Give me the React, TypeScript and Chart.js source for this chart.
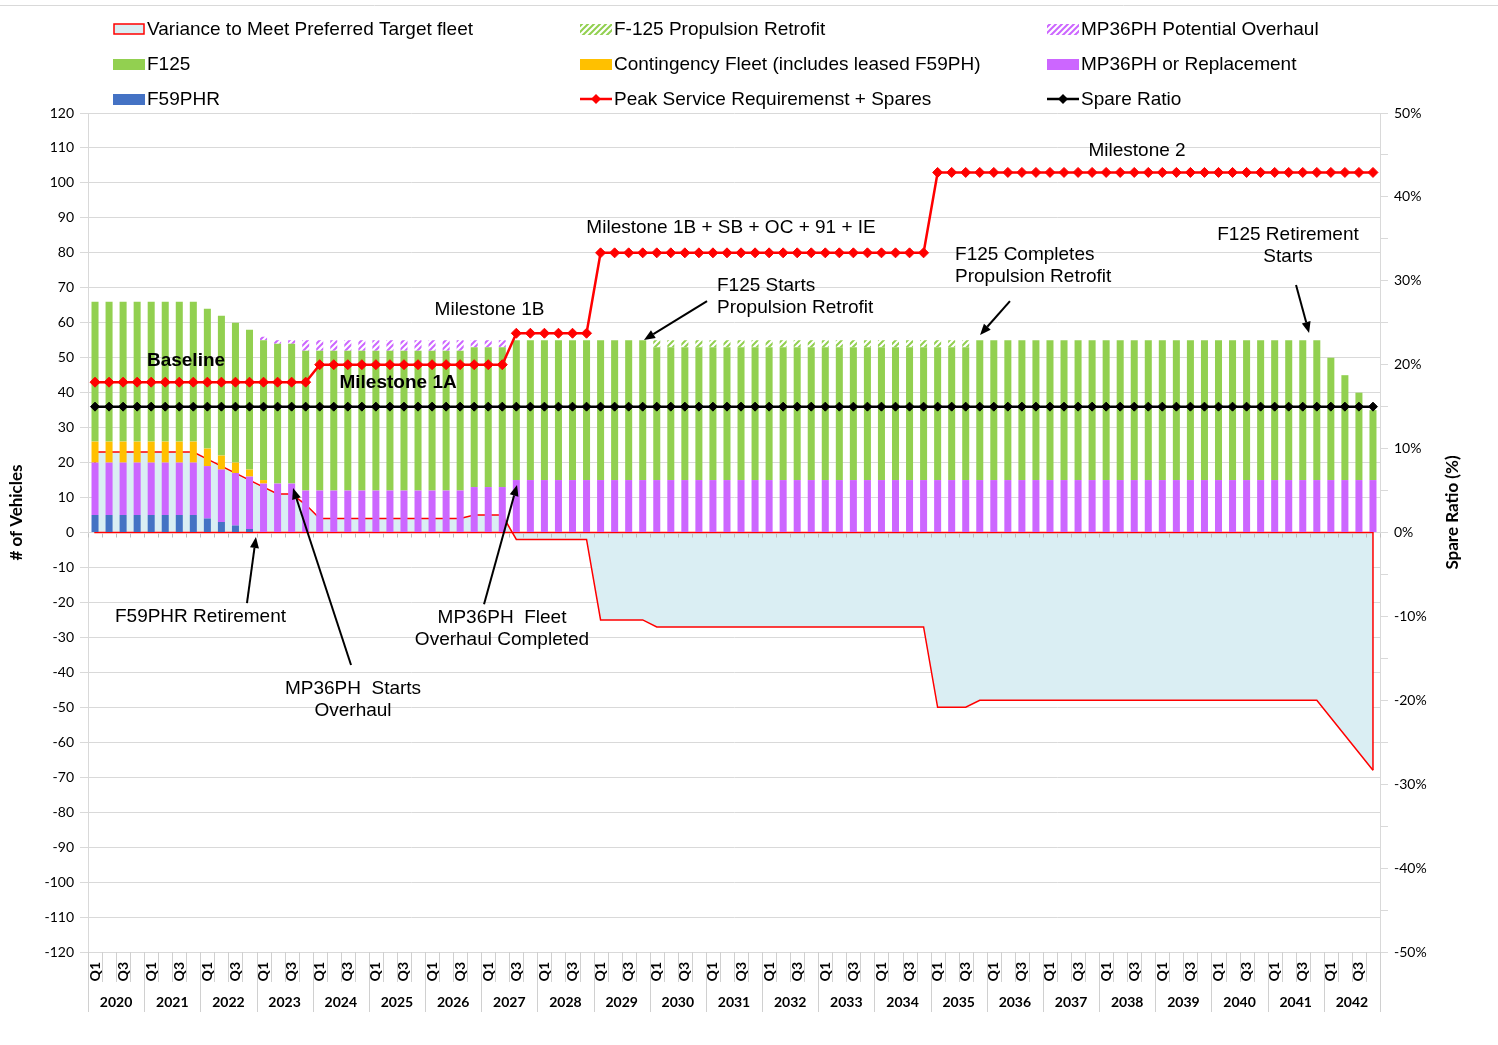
import React, { useEffect, useRef } from 'react';
import { Chart, registerables } from 'chart.js';

Chart.register(...registerables);

// ---------------- categories ----------------
const years = [
  '2020', '2021', '2022', '2023', '2024', '2025', '2026', '2027', '2028', '2029', '2030', '2031',
  '2032', '2033', '2034', '2035', '2036', '2037', '2038', '2039', '2040', '2041', '2042',
];
const quarterNames = ['Q1', 'Q2', 'Q3', 'Q4'];
const labeledQuarters = ['Q1', 'Q3'];

// ---------------- series (one row per year, Q1..Q4) ----------------
const f59phr = [
  5, 5, 5, 5, // 2020
  5, 5, 5, 5, // 2021
  4, 3, 2, 1, // 2022
  0, 0, 0, 0, // 2023
  0, 0, 0, 0, // 2024
  0, 0, 0, 0, // 2025
  0, 0, 0, 0, // 2026
  0, 0, 0, 0, // 2027
  0, 0, 0, 0, // 2028
  0, 0, 0, 0, // 2029
  0, 0, 0, 0, // 2030
  0, 0, 0, 0, // 2031
  0, 0, 0, 0, // 2032
  0, 0, 0, 0, // 2033
  0, 0, 0, 0, // 2034
  0, 0, 0, 0, // 2035
  0, 0, 0, 0, // 2036
  0, 0, 0, 0, // 2037
  0, 0, 0, 0, // 2038
  0, 0, 0, 0, // 2039
  0, 0, 0, 0, // 2040
  0, 0, 0, 0, // 2041
  0, 0, 0, 0, // 2042
];

const mp36ph = [
  15, 15, 15, 15, // 2020
  15, 15, 15, 15, // 2021
  15, 15, 15, 15, // 2022
  14, 14, 14, 12, // 2023
  12, 12, 12, 12, // 2024
  12, 12, 12, 12, // 2025
  12, 12, 12, 13, // 2026
  13, 13, 15, 15, // 2027
  15, 15, 15, 15, // 2028
  15, 15, 15, 15, // 2029
  15, 15, 15, 15, // 2030
  15, 15, 15, 15, // 2031
  15, 15, 15, 15, // 2032
  15, 15, 15, 15, // 2033
  15, 15, 15, 15, // 2034
  15, 15, 15, 15, // 2035
  15, 15, 15, 15, // 2036
  15, 15, 15, 15, // 2037
  15, 15, 15, 15, // 2038
  15, 15, 15, 15, // 2039
  15, 15, 15, 15, // 2040
  15, 15, 15, 15, // 2041
  15, 15, 15, 15, // 2042
];

const contingency = [
  6, 6, 6, 6, // 2020
  6, 6, 6, 6, // 2021
  5, 4, 3, 2, // 2022
  1, 0, 0, 0, // 2023
  0, 0, 0, 0, // 2024
  0, 0, 0, 0, // 2025
  0, 0, 0, 0, // 2026
  0, 0, 0, 0, // 2027
  0, 0, 0, 0, // 2028
  0, 0, 0, 0, // 2029
  0, 0, 0, 0, // 2030
  0, 0, 0, 0, // 2031
  0, 0, 0, 0, // 2032
  0, 0, 0, 0, // 2033
  0, 0, 0, 0, // 2034
  0, 0, 0, 0, // 2035
  0, 0, 0, 0, // 2036
  0, 0, 0, 0, // 2037
  0, 0, 0, 0, // 2038
  0, 0, 0, 0, // 2039
  0, 0, 0, 0, // 2040
  0, 0, 0, 0, // 2041
  0, 0, 0, 0, // 2042
];

const f125 = [
  40, 40, 40, 40, // 2020
  40, 40, 40, 40, // 2021
  40, 40, 40, 40, // 2022
  40, 40, 40, 40, // 2023
  40, 40, 40, 40, // 2024
  40, 40, 40, 40, // 2025
  40, 40, 40, 40, // 2026
  40, 40, 40, 40, // 2027
  40, 40, 40, 40, // 2028
  40, 40, 40, 40, // 2029
  38, 38, 38, 38, // 2030
  38, 38, 38, 38, // 2031
  38, 38, 38, 38, // 2032
  38, 38, 38, 38, // 2033
  38, 38, 38, 38, // 2034
  38, 38, 38, 40, // 2035
  40, 40, 40, 40, // 2036
  40, 40, 40, 40, // 2037
  40, 40, 40, 40, // 2038
  40, 40, 40, 40, // 2039
  40, 40, 40, 40, // 2040
  40, 40, 40, 40, // 2041
  35, 30, 25, 20, // 2042
];

const f125Retrofit = [
  0, 0, 0, 0, // 2020
  0, 0, 0, 0, // 2021
  0, 0, 0, 0, // 2022
  0, 0, 0, 0, // 2023
  0, 0, 0, 0, // 2024
  0, 0, 0, 0, // 2025
  0, 0, 0, 0, // 2026
  0, 0, 0, 0, // 2027
  0, 0, 0, 0, // 2028
  0, 0, 0, 0, // 2029
  2, 2, 2, 2, // 2030
  2, 2, 2, 2, // 2031
  2, 2, 2, 2, // 2032
  2, 2, 2, 2, // 2033
  2, 2, 2, 2, // 2034
  2, 2, 2, 0, // 2035
  0, 0, 0, 0, // 2036
  0, 0, 0, 0, // 2037
  0, 0, 0, 0, // 2038
  0, 0, 0, 0, // 2039
  0, 0, 0, 0, // 2040
  0, 0, 0, 0, // 2041
  0, 0, 0, 0, // 2042
];

const mp36Overhaul = [
  0, 0, 0, 0, // 2020
  0, 0, 0, 0, // 2021
  0, 0, 0, 0, // 2022
  1, 1, 1, 3, // 2023
  3, 3, 3, 3, // 2024
  3, 3, 3, 3, // 2025
  3, 3, 3, 2, // 2026
  2, 2, 0, 0, // 2027
  0, 0, 0, 0, // 2028
  0, 0, 0, 0, // 2029
  0, 0, 0, 0, // 2030
  0, 0, 0, 0, // 2031
  0, 0, 0, 0, // 2032
  0, 0, 0, 0, // 2033
  0, 0, 0, 0, // 2034
  0, 0, 0, 0, // 2035
  0, 0, 0, 0, // 2036
  0, 0, 0, 0, // 2037
  0, 0, 0, 0, // 2038
  0, 0, 0, 0, // 2039
  0, 0, 0, 0, // 2040
  0, 0, 0, 0, // 2041
  0, 0, 0, 0, // 2042
];

const peakRequirement = [
  43, 43, 43, 43, // 2020
  43, 43, 43, 43, // 2021
  43, 43, 43, 43, // 2022
  43, 43, 43, 43, // 2023
  48, 48, 48, 48, // 2024
  48, 48, 48, 48, // 2025
  48, 48, 48, 48, // 2026
  48, 48, 57, 57, // 2027
  57, 57, 57, 57, // 2028
  80, 80, 80, 80, // 2029
  80, 80, 80, 80, // 2030
  80, 80, 80, 80, // 2031
  80, 80, 80, 80, // 2032
  80, 80, 80, 80, // 2033
  80, 80, 80, 80, // 2034
  103, 103, 103, 103, // 2035
  103, 103, 103, 103, // 2036
  103, 103, 103, 103, // 2037
  103, 103, 103, 103, // 2038
  103, 103, 103, 103, // 2039
  103, 103, 103, 103, // 2040
  103, 103, 103, 103, // 2041
  103, 103, 103, 103, // 2042
];

const spareRatio = [
  0.15, 0.15, 0.15, 0.15, // 2020
  0.15, 0.15, 0.15, 0.15, // 2021
  0.15, 0.15, 0.15, 0.15, // 2022
  0.15, 0.15, 0.15, 0.15, // 2023
  0.15, 0.15, 0.15, 0.15, // 2024
  0.15, 0.15, 0.15, 0.15, // 2025
  0.15, 0.15, 0.15, 0.15, // 2026
  0.15, 0.15, 0.15, 0.15, // 2027
  0.15, 0.15, 0.15, 0.15, // 2028
  0.15, 0.15, 0.15, 0.15, // 2029
  0.15, 0.15, 0.15, 0.15, // 2030
  0.15, 0.15, 0.15, 0.15, // 2031
  0.15, 0.15, 0.15, 0.15, // 2032
  0.15, 0.15, 0.15, 0.15, // 2033
  0.15, 0.15, 0.15, 0.15, // 2034
  0.15, 0.15, 0.15, 0.15, // 2035
  0.15, 0.15, 0.15, 0.15, // 2036
  0.15, 0.15, 0.15, 0.15, // 2037
  0.15, 0.15, 0.15, 0.15, // 2038
  0.15, 0.15, 0.15, 0.15, // 2039
  0.15, 0.15, 0.15, 0.15, // 2040
  0.15, 0.15, 0.15, 0.15, // 2041
  0.15, 0.15, 0.15, 0.15, // 2042
];

const variance = [
  23, 23, 23, 23, // 2020
  23, 23, 23, 23, // 2021
  21, 19, 17, 15, // 2022
  13, 11, 11, 8, // 2023
  4, 4, 4, 4, // 2024
  4, 4, 4, 4, // 2025
  4, 4, 4, 5, // 2026
  5, 5, -2, -2, // 2027
  -2, -2, -2, -2, // 2028
  -25, -25, -25, -25, // 2029
  -27, -27, -27, -27, // 2030
  -27, -27, -27, -27, // 2031
  -27, -27, -27, -27, // 2032
  -27, -27, -27, -27, // 2033
  -27, -27, -27, -27, // 2034
  -50, -50, -50, -48, // 2035
  -48, -48, -48, -48, // 2036
  -48, -48, -48, -48, // 2037
  -48, -48, -48, -48, // 2038
  -48, -48, -48, -48, // 2039
  -48, -48, -48, -48, // 2040
  -48, -48, -48, -48, // 2041
  -53, -58, -63, -68, // 2042
];

// ---------------- text annotations (category index, value) ----------------
const notes = [
  { lines: ['Baseline'], at: [6.48, 49.1], align: 'center', bold: true },
  { lines: ['Milestone 1A'], at: [21.58, 42.8], align: 'center', bold: true },
  { lines: ['Milestone 1B'], at: [28.09, 63.6], align: 'center', bold: false },
  { lines: ['Milestone 1B + SB + OC + 91 + IE'], at: [45.29, 87.1], align: 'center', bold: false },
  { lines: ['Milestone 2'], at: [74.2, 109.1], align: 'center', bold: false },
  { lines: ['F125 Starts', 'Propulsion Retrofit'], at: [44.29, 70.5], align: 'left', bold: false },
  { lines: ['F125 Completes', 'Propulsion Retrofit'], at: [61.24, 79.4], align: 'left', bold: false },
  { lines: ['F125 Retirement', 'Starts'], at: [84.95, 85.1], align: 'center', bold: false },
  { lines: ['F59PHR Retirement'], at: [7.51, -24.2], align: 'center', bold: false },
  { lines: ['MP36PH  Fleet', 'Overhaul Completed'], at: [28.98, -24.5], align: 'center', bold: false },
  { lines: ['MP36PH  Starts', 'Overhaul'], at: [18.37, -44.8], align: 'center', bold: false },
];

const arrows = [
  { from: [10.82, -20.2], to: [11.46, -1.3] },
  { from: [18.23, -37.9], to: [14.1, 12.7] },
  { from: [27.7, -20.5], to: [30.05, 13.6] },
  { from: [43.58, 66.2], to: [39.09, 55.1] },
  { from: [65.15, 66.2], to: [63.02, 56.5] },
  { from: [85.52, 70.8], to: [86.45, 57.1] },
];

const legendColumns = [
  ['Variance to Meet Preferred Target fleet', 'F125', 'F59PHR'],
  ['F-125 Propulsion Retrofit', 'Contingency Fleet (includes leased F59PH)', 'Peak Service Requiremenst + Spares'],
  ['MP36PH Potential Overhaul', 'MP36PH or Replacement', 'Spare Ratio'],
];

const LABEL_VARIANCE = 'Variance to Meet Preferred Target fleet';

const TEXT_FONT = '"Liberation Sans", Arial, sans-serif';
const AXIS_FONT = 'Lato, Carlito, "Open Sans", sans-serif';

const GREEN = '#92D050';
const PURPLE = '#CC66FF';
const ORANGE = '#FFC000';
const BLUE = '#4472C4';
const AREA_FILL = '#DAEEF3';
const RED = '#FF0000';
const GRID = '#D9D9D9';

function makeHatch(color: string) {
  const s = 6;
  const c = document.createElement('canvas');
  c.width = s;
  c.height = s;
  const g = c.getContext('2d') as CanvasRenderingContext2D;
  g.fillStyle = '#ffffff';
  g.fillRect(0, 0, s, s);
  g.strokeStyle = color;
  g.lineWidth = 2;
  g.beginPath();
  g.moveTo(-1, s + 1);
  g.lineTo(s + 1, -1);
  g.moveTo(-s / 2 - 1, s / 2 + 1);
  g.lineTo(s / 2 + 1, -s / 2 - 1);
  g.moveTo(s / 2 - 1, s * 1.5 + 1);
  g.lineTo(s * 1.5 + 1, s / 2 - 1);
  g.stroke();
  return g.createPattern(c, 'repeat') as CanvasPattern;
}

function diamond(ctx: CanvasRenderingContext2D, x: number, y: number, r: number, color: string) {
  ctx.beginPath();
  ctx.moveTo(x, y - r);
  ctx.lineTo(x + r, y);
  ctx.lineTo(x, y + r);
  ctx.lineTo(x - r, y);
  ctx.closePath();
  ctx.fillStyle = color;
  ctx.fill();
}

function arrow(ctx: CanvasRenderingContext2D, x1: number, y1: number, x2: number, y2: number) {
  const a = Math.atan2(y2 - y1, x2 - x1);
  const len = 11;
  const half = 4.5;
  const bx = x2 - len * Math.cos(a);
  const by = y2 - len * Math.sin(a);
  ctx.strokeStyle = '#000';
  ctx.lineWidth = 2;
  ctx.beginPath();
  ctx.moveTo(x1, y1);
  ctx.lineTo(bx, by);
  ctx.stroke();
  ctx.fillStyle = '#000';
  ctx.beginPath();
  ctx.moveTo(x2, y2);
  ctx.lineTo(bx + half * Math.sin(a), by - half * Math.cos(a));
  ctx.lineTo(bx - half * Math.sin(a), by + half * Math.cos(a));
  ctx.closePath();
  ctx.fill();
}

const decorPlugin = {
  id: 'decor',
  afterDatasetDraw(chart: any, args: any) {
    const ds = chart.data.datasets[args.index];
    if (ds.label !== LABEL_VARIANCE) return;
    const pts = args.meta.data;
    if (!pts.length) return;
    const ctx = chart.ctx;
    const y0 = chart.scales.y.getPixelForValue(0);
    const first = pts[0];
    const last = pts[pts.length - 1];
    ctx.save();
    ctx.strokeStyle = RED;
    ctx.lineWidth = 1.5;
    ctx.beginPath();
    ctx.moveTo(first.x, first.y);
    ctx.lineTo(first.x, y0);
    ctx.lineTo(last.x, y0);
    ctx.lineTo(last.x, last.y);
    ctx.stroke();
    ctx.restore();
  },
  afterDatasetsDraw(chart: any) {
    const { ctx, chartArea: ca } = chart;
    const n = chart.data.labels.length;
    const cw = (ca.right - ca.left) / n;
    const y0 = chart.scales.y.getPixelForValue(0);
    ctx.save();
    ctx.strokeStyle = '#BFBFBF';
    ctx.lineWidth = 1;
    ctx.beginPath();
    for (let k = 0; k <= n; k++) {
      const px = Math.round(ca.left + k * cw) + 0.5;
      ctx.moveTo(px, y0 + 1);
      ctx.lineTo(px, y0 + 5);
    }
    ctx.stroke();
    ctx.restore();
  },
  afterDraw(chart: any) {
    const { ctx, chartArea: ca, scales } = chart;
    const xs = scales.x;
    const ys = scales.y;
    const n = chart.data.labels.length;
    const cw = (ca.right - ca.left) / n;
    const qn = quarterNames.length;
    ctx.save();

    // outer top border
    ctx.strokeStyle = GRID;
    ctx.lineWidth = 1;
    ctx.beginPath();
    ctx.moveTo(0, 5.5);
    ctx.lineTo(chart.width, 5.5);
    ctx.stroke();

    // category label area separators
    ctx.strokeStyle = '#D0D0D0';
    ctx.beginPath();
    for (let k = 0; k <= n; k++) {
      const px = Math.round(ca.left + k * cw) + 0.5;
      ctx.moveTo(px, ca.bottom);
      ctx.lineTo(px, k % qn === 0 ? ca.bottom + 60 : ca.bottom + 30);
    }
    ctx.stroke();

    // quarter labels
    ctx.fillStyle = '#000';
    ctx.font = `bold 14px ${AXIS_FONT}`;
    ctx.textAlign = 'right';
    ctx.textBaseline = 'middle';
    for (let i = 0; i < n; i++) {
      const q = quarterNames[i % qn];
      if (!labeledQuarters.includes(q)) continue;
      const px = xs.getPixelForValue(i);
      ctx.save();
      ctx.translate(px, ca.bottom + 10);
      ctx.rotate(-Math.PI / 2);
      ctx.fillText(q, 0, 0);
      ctx.restore();
    }
    // year labels
    ctx.textAlign = 'center';
    years.forEach((yr, k) => {
      const cx = (xs.getPixelForValue(k * qn) + xs.getPixelForValue(k * qn + qn - 1)) / 2;
      ctx.fillText(yr, cx, ca.bottom + 50);
    });

    // axis titles
    ctx.font = `bold 17px ${AXIS_FONT}`;
    ctx.textAlign = 'center';
    ctx.textBaseline = 'middle';
    const midY = (ca.top + ca.bottom) / 2 - 20;
    ctx.save();
    ctx.translate(17, midY);
    ctx.rotate(-Math.PI / 2);
    ctx.fillText('# of Vehicles', 0, 0);
    ctx.restore();
    ctx.save();
    ctx.translate(ca.right + 73, midY);
    ctx.rotate(-Math.PI / 2);
    ctx.fillText('Spare Ratio (%)', 0, 0);
    ctx.restore();

    // legend
    const colX = [113, 580, 1047];
    const rowY = [29, 64, 99];
    ctx.font = `19px ${TEXT_FONT}`;
    ctx.textAlign = 'left';
    ctx.textBaseline = 'middle';
    legendColumns.forEach((col, ci) => {
      col.forEach((label, ri) => {
        const ds = chart.data.datasets.find((d: any) => d.label === label);
        if (!ds) return;
        const x0 = colX[ci];
        const y0 = rowY[ri];
        if (label === LABEL_VARIANCE) {
          ctx.fillStyle = AREA_FILL;
          ctx.fillRect(x0 + 1, y0 - 5, 30, 10);
          ctx.strokeStyle = RED;
          ctx.lineWidth = 1.5;
          ctx.strokeRect(x0 + 1, y0 - 5, 30, 10);
        } else if (ds.type === 'line') {
          ctx.strokeStyle = ds.borderColor;
          ctx.lineWidth = 2.5;
          ctx.beginPath();
          ctx.moveTo(x0, y0);
          ctx.lineTo(x0 + 32, y0);
          ctx.stroke();
          diamond(ctx, x0 + 16, y0, 5, ds.borderColor);
        } else {
          ctx.fillStyle = ds.backgroundColor;
          ctx.fillRect(x0, y0 - 5, 32, 11);
        }
        ctx.fillStyle = '#000';
        ctx.fillText(label, x0 + 34, y0 + 1);
      });
    });

    // annotations
    notes.forEach((nt) => {
      const px = xs.getPixelForValue(nt.at[0]);
      const py = ys.getPixelForValue(nt.at[1]);
      ctx.font = `${nt.bold ? 'bold ' : ''}19px ${TEXT_FONT}`;
      ctx.textAlign = nt.align;
      ctx.textBaseline = 'middle';
      ctx.fillStyle = '#000';
      nt.lines.forEach((ln, li) => ctx.fillText(ln, px, py + li * 22));
    });
    arrows.forEach((ar) => {
      arrow(
        ctx,
        xs.getPixelForValue(ar.from[0]),
        ys.getPixelForValue(ar.from[1]),
        xs.getPixelForValue(ar.to[0]),
        ys.getPixelForValue(ar.to[1]),
      );
    });

    ctx.restore();
  },
};

export default function App() {
  const ref = useRef<HTMLCanvasElement | null>(null);

  useEffect(() => {
    const canvas = ref.current;
    if (!canvas) return;
    const hatchGreen = makeHatch(GREEN);
    const hatchPurple = makeHatch(PURPLE);
    const labels = years.flatMap((y) => quarterNames.map((q) => `${y} ${q}`));

    const barBase = { type: 'bar', stack: 'fleet', order: 5, borderWidth: 0, yAxisID: 'y' };

    const chart = new Chart(canvas, {
      type: 'bar',
      data: {
        labels,
        datasets: [
          {
            type: 'line',
            label: LABEL_VARIANCE,
            data: variance,
            yAxisID: 'y',
            stack: 'variance',
            order: 10,
            fill: 'origin',
            backgroundColor: AREA_FILL,
            borderColor: RED,
            borderWidth: 1.5,
            pointRadius: 0,
            pointHoverRadius: 0,
            tension: 0,
          },
          { ...barBase, label: 'F59PHR', data: f59phr, backgroundColor: BLUE },
          { ...barBase, label: 'MP36PH or Replacement', data: mp36ph, backgroundColor: PURPLE },
          { ...barBase, label: 'Contingency Fleet (includes leased F59PH)', data: contingency, backgroundColor: ORANGE },
          { ...barBase, label: 'F125', data: f125, backgroundColor: GREEN },
          { ...barBase, label: 'F-125 Propulsion Retrofit', data: f125Retrofit, backgroundColor: hatchGreen },
          { ...barBase, label: 'MP36PH Potential Overhaul', data: mp36Overhaul, backgroundColor: hatchPurple },
          {
            type: 'line',
            label: 'Peak Service Requiremenst + Spares',
            data: peakRequirement,
            yAxisID: 'y',
            stack: 'peak',
            order: 1,
            fill: false,
            borderColor: RED,
            backgroundColor: RED,
            borderWidth: 2.5,
            pointStyle: 'rectRot',
            pointRadius: 5,
            pointBorderWidth: 1,
            pointBorderColor: RED,
            pointBackgroundColor: RED,
            tension: 0,
          },
          {
            type: 'line',
            label: 'Spare Ratio',
            data: spareRatio,
            yAxisID: 'y1',
            order: 0,
            fill: false,
            borderColor: '#000000',
            backgroundColor: '#000000',
            borderWidth: 2.5,
            pointStyle: 'rectRot',
            pointRadius: 4.5,
            pointBorderWidth: 1,
            pointBorderColor: '#000000',
            pointBackgroundColor: '#000000',
            tension: 0,
          },
        ] as any,
      },
      options: {
        responsive: false,
        animation: false,
        events: [],
        layout: { padding: { top: 113, bottom: 93, left: 0, right: 0 } },
        plugins: { legend: { display: false }, tooltip: { enabled: false }, title: { display: false } },
        datasets: { bar: { barPercentage: 0.5, categoryPercentage: 1 } } as any,
        scales: {
          x: {
            type: 'category',
            display: false,
            stacked: true,
            offset: true,
          },
          y: {
            type: 'linear',
            position: 'left',
            stacked: true,
            min: -120,
            max: 120,
            ticks: { stepSize: 10, color: '#000', padding: 6, font: { family: AXIS_FONT, size: 14 } },
            grid: { color: GRID, tickLength: 8, drawTicks: true, lineWidth: 1 },
            border: { display: true, color: GRID },
            afterFit: (s: any) => {
              s.width = 88;
            },
          },
          y1: {
            type: 'linear',
            position: 'right',
            min: -0.5,
            max: 0.5,
            ticks: {
              stepSize: 0.05,
              color: '#000',
              padding: 6,
              font: { family: AXIS_FONT, size: 14 },
              callback: (v: any) => {
                const p = Math.round(Number(v) * 100);
                return p % 10 === 0 ? `${p}%` : '';
              },
            },
            grid: { drawOnChartArea: false, color: GRID, tickLength: 8, drawTicks: true },
            border: { display: true, color: GRID },
            afterFit: (s: any) => {
              s.width = 118;
            },
          },
        } as any,
      },
      plugins: [decorPlugin],
    } as any);

    let alive = true;
    if ((document as any).fonts && (document as any).fonts.ready) {
      (document as any).fonts.ready.then(() => {
        if (alive) chart.draw();
      });
    }
    return () => {
      alive = false;
      chart.destroy();
    };
  }, []);

  return (
    <div style={{ position: 'fixed', left: 0, top: 0, width: 1498, height: 1045, background: '#ffffff' }}>
      <canvas ref={ref} width={1498} height={1045} style={{ display: 'block', width: 1498, height: 1045 }} />
    </div>
  );
}
